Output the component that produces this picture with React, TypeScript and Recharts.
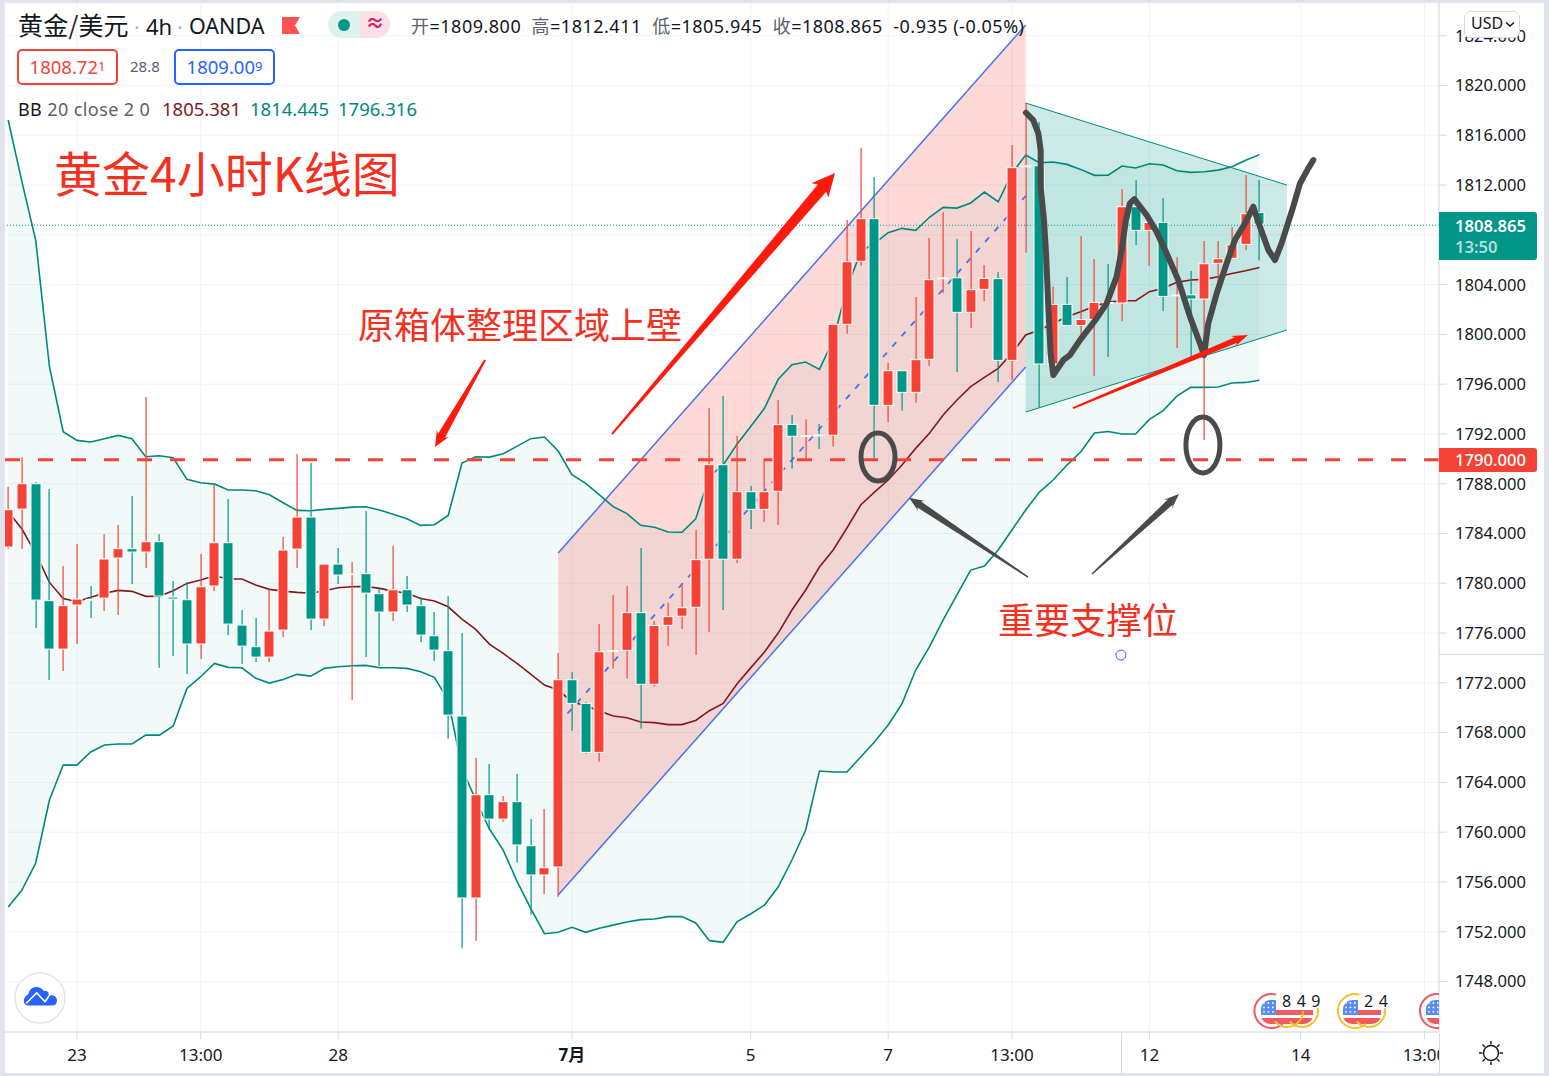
import React from 'react';
import {
  ComposedChart,
  Area,
  Bar,
  Line,
  XAxis,
  YAxis,
  CartesianGrid,
  ReferenceLine,
  ReferenceDot,
} from 'recharts';

const opens = [1782.91, 1785.96, 1788.0, 1778.6, 1774.71, 1778.25, 1778.7, 1778.81, 1782.03, 1782.78, 1782.51, 1783.34, 1778.89, 1778.68, 1775.12, 1779.78, 1783.26, 1776.64, 1774.9, 1774.07, 1776.24, 1782.75, 1785.32, 1777.12, 1781.54, 1780.72, 1780.77, 1779.16, 1777.69, 1779.48, 1778.2, 1775.78, 1774.58, 1769.33, 1754.71, 1763.01, 1761.05, 1762.45, 1758.91, 1756.56, 1757.2, 1772.25, 1770.35, 1766.41, 1774.55, 1774.61, 1777.64, 1771.88, 1776.62, 1777.35, 1778.07, 1781.93, 1789.53, 1781.93, 1787.36, 1785.94, 1787.39, 1792.77, 1791.84, 1791.92, 1791.89, 1800.81, 1805.87, 1809.3, 1794.3, 1797.08, 1795.34, 1798.0, 1804.47, 1804.55, 1801.77, 1803.62, 1804.48, 1797.91, 1813.5, 1813.55, 1797.62, 1802.41, 1800.72, 1801.2, 1802.57, 1802.52, 1810.26, 1808.36, 1809.0, 1803.12, 1803.18, 1802.84, 1805.71, 1806.11, 1807.23, 1809.8];
const highs = [1787.76, 1790.14, 1788.13, 1787.57, 1781.38, 1783.15, 1779.78, 1783.95, 1784.68, 1787.01, 1794.96, 1783.95, 1780.18, 1780.1, 1782.35, 1787.97, 1786.77, 1777.85, 1777.2, 1779.51, 1783.71, 1790.38, 1789.66, 1781.54, 1782.83, 1781.7, 1785.8, 1779.53, 1783.0, 1780.58, 1778.89, 1777.69, 1778.97, 1776.0, 1765.96, 1765.47, 1762.9, 1764.67, 1761.05, 1761.86, 1774.4, 1772.87, 1770.45, 1776.73, 1779.06, 1779.78, 1782.84, 1776.97, 1778.44, 1780.0, 1784.28, 1794.09, 1795.05, 1791.84, 1787.82, 1790.0, 1794.73, 1793.52, 1793.17, 1792.8, 1800.81, 1809.19, 1814.98, 1812.65, 1797.7, 1797.08, 1803.0, 1807.75, 1809.83, 1807.66, 1808.31, 1805.57, 1805.01, 1815.22, 1818.6, 1817.06, 1803.83, 1804.61, 1807.9, 1806.05, 1805.65, 1811.68, 1812.4, 1809.0, 1810.95, 1806.21, 1805.09, 1807.5, 1807.5, 1808.62, 1812.8, 1812.411];
const lows = [1782.75, 1782.75, 1776.4, 1772.22, 1772.95, 1775.12, 1777.2, 1777.77, 1777.45, 1779.94, 1781.22, 1773.21, 1774.15, 1772.7, 1773.91, 1779.37, 1775.84, 1773.51, 1773.67, 1773.67, 1775.68, 1781.22, 1776.24, 1776.56, 1779.94, 1770.61, 1774.07, 1773.35, 1776.96, 1777.69, 1775.27, 1773.75, 1767.51, 1750.66, 1751.28, 1760.23, 1760.84, 1757.55, 1753.37, 1755.03, 1754.81, 1768.15, 1766.31, 1765.66, 1773.14, 1772.34, 1768.32, 1771.69, 1774.96, 1776.33, 1774.24, 1776.09, 1777.85, 1781.63, 1784.36, 1784.93, 1784.69, 1789.21, 1790.04, 1790.79, 1790.98, 1800.06, 1805.52, 1790.04, 1792.96, 1793.87, 1794.51, 1797.46, 1803.32, 1796.98, 1800.51, 1802.68, 1796.17, 1796.33, 1806.56, 1794.13, 1797.62, 1800.72, 1799.81, 1796.65, 1798.18, 1801.07, 1807.18, 1805.49, 1801.87, 1798.9, 1798.18, 1791.5, 1803.96, 1806.11, 1806.78, 1805.945];
const closes = [1785.91, 1788.0, 1778.65, 1774.71, 1778.2, 1778.73, 1778.65, 1781.95, 1782.78, 1782.51, 1783.34, 1778.97, 1778.73, 1775.12, 1779.72, 1783.26, 1776.72, 1774.95, 1774.07, 1776.16, 1782.67, 1785.32, 1777.12, 1781.54, 1780.66, 1780.77, 1779.21, 1777.69, 1779.48, 1778.25, 1775.84, 1774.63, 1769.41, 1754.71, 1763.01, 1761.05, 1762.45, 1758.97, 1756.56, 1757.14, 1772.25, 1770.35, 1766.41, 1774.5, 1774.6, 1777.64, 1771.88, 1776.6, 1777.32, 1778.04, 1781.9, 1789.53, 1781.93, 1787.36, 1785.94, 1787.36, 1792.75, 1791.81, 1791.87, 1791.88, 1800.81, 1805.84, 1809.3, 1794.3, 1797.08, 1795.34, 1797.97, 1804.4, 1804.55, 1801.77, 1803.59, 1804.5, 1797.91, 1813.4, 1813.55, 1797.62, 1802.41, 1800.72, 1801.2, 1802.57, 1802.5, 1810.26, 1808.36, 1809.0, 1803.05, 1803.17, 1802.84, 1805.68, 1806.08, 1807.2, 1809.7, 1808.865];

const bbUpper = [1817.23, 1812.25, 1807.58, 1797.4, 1792.18, 1791.48, 1791.35, 1791.62, 1791.88, 1791.62, 1790.17, 1790.25, 1790.09, 1788.35, 1788.08, 1787.97, 1787.49, 1787.49, 1787.44, 1787.11, 1786.47, 1785.86, 1785.83, 1785.94, 1786.02, 1786.12, 1786.15, 1785.88, 1785.54, 1785.19, 1784.65, 1784.7, 1785.45, 1789.66, 1790.17, 1790.14, 1790.41, 1791.0, 1791.62, 1791.75, 1790.63, 1788.73, 1788.03, 1787.1, 1786.16, 1785.6, 1784.66, 1784.5, 1784.12, 1784.1, 1785.17, 1788.6, 1789.5, 1791.17, 1792.6, 1794.06, 1796.39, 1797.57, 1797.78, 1797.19, 1799.55, 1803.7, 1806.65, 1807.32, 1808.17, 1808.52, 1808.36, 1809.41, 1810.21, 1810.15, 1810.56, 1811.44, 1810.66, 1812.94, 1814.41, 1813.79, 1813.85, 1813.66, 1813.26, 1812.78, 1812.8, 1813.53, 1813.37, 1813.71, 1813.61, 1813.15, 1813.02, 1813.07, 1813.2, 1813.47, 1814.0, 1814.445];
const bbMiddle = [1785.75, 1784.36, 1782.4, 1780.07, 1778.78, 1778.52, 1778.87, 1779.2, 1779.43, 1779.35, 1778.95, 1778.97, 1779.4, 1779.99, 1780.26, 1780.6, 1780.34, 1780.34, 1779.86, 1779.51, 1779.37, 1779.27, 1779.2, 1779.4, 1779.64, 1779.72, 1779.75, 1779.59, 1779.37, 1779.2, 1778.78, 1778.57, 1778.11, 1777.12, 1776.29, 1775.11, 1774.36, 1773.56, 1772.7, 1771.82, 1771.42, 1770.48, 1770.16, 1769.73, 1769.33, 1769.2, 1768.85, 1768.8, 1768.64, 1768.64, 1768.98, 1769.76, 1770.35, 1771.91, 1773.2, 1774.48, 1776.0, 1777.85, 1779.46, 1781.31, 1782.67, 1784.44, 1786.29, 1787.33, 1788.3, 1789.5, 1790.84, 1792.05, 1793.52, 1794.73, 1795.8, 1796.55, 1797.27, 1798.48, 1799.95, 1800.35, 1800.88, 1801.42, 1801.82, 1802.27, 1802.6, 1802.7, 1802.7, 1803.43, 1803.7, 1804.18, 1804.37, 1804.42, 1804.63, 1804.9, 1805.11, 1805.381];
const bbLower = [1753.98, 1755.35, 1757.52, 1762.58, 1765.39, 1765.39, 1766.44, 1767.0, 1767.08, 1767.08, 1767.8, 1767.8, 1768.53, 1771.55, 1772.49, 1773.56, 1773.24, 1773.21, 1772.36, 1771.98, 1772.27, 1772.68, 1772.54, 1773.16, 1773.29, 1773.37, 1773.4, 1773.21, 1773.21, 1773.16, 1772.89, 1772.44, 1770.6, 1765.15, 1762.58, 1760.25, 1758.56, 1756.07, 1753.88, 1751.84, 1751.95, 1752.35, 1751.95, 1752.27, 1752.53, 1752.78, 1752.97, 1753.02, 1753.21, 1753.21, 1752.7, 1751.28, 1751.14, 1752.8, 1753.42, 1754.14, 1755.59, 1757.76, 1760.17, 1764.91, 1764.83, 1764.83, 1766.04, 1767.24, 1768.61, 1770.3, 1773.03, 1774.88, 1777.05, 1779.06, 1781.06, 1781.39, 1782.67, 1784.28, 1785.89, 1787.33, 1788.3, 1789.5, 1790.55, 1792.08, 1792.2, 1791.99, 1791.99, 1793.17, 1793.87, 1795.04, 1795.74, 1795.74, 1795.77, 1796.09, 1796.14, 1796.316];

const priceTicks = [1748, 1752, 1756, 1760, 1764, 1768, 1772, 1776, 1780, 1784, 1788, 1792, 1796, 1800, 1804, 1808, 1812, 1816, 1820, 1824];
const timeTicks = [5, 14, 24, 41, 54, 64, 73, 83, 94, 103];
const timeLabels = ['23', '13:00', '28', '7月', '5', '7', '13:00', '12', '14', '13:00'];

// drawings, all in bar index / price units
const channelBand = [
  { i: 40, range: [1754.95, 1782.43] },
  { i: 74, range: [1797.38, 1824.86] },
];
const channelMid = [
  { i: 40, price: 1768.69 },
  { i: 74, price: 1811.12 },
];
const wedgeBand = [
  { i: 74, range: [1793.76, 1818.59] },
  { i: 93, range: [1800.35, 1812.0] },
];
const handIdx = [74.02, 74.55, 74.92, 75.09, 75.09, 75.33, 75.48, 75.65, 75.81, 76.01, 76.74, 77.22, 77.95, 79.16, 79.89, 80.61, 80.98, 81.29, 81.58, 81.9, 82.8, 83.52, 84.25, 85.1, 85.95, 86.68, 86.97, 87.28, 87.89, 88.61, 89.22, 89.95, 90.55, 91.04, 91.65, 92.13, 92.61, 93.46, 93.95, 94.55, 94.92];
const handPrice = [1817.81, 1817.22, 1816.15, 1814.81, 1811.87, 1809.19, 1806.51, 1802.22, 1798.47, 1796.73, 1797.94, 1798.34, 1799.54, 1801.28, 1802.49, 1804.63, 1806.78, 1809.19, 1810.53, 1810.87, 1809.59, 1808.25, 1806.51, 1804.36, 1801.42, 1799.27, 1798.34, 1800.88, 1803.29, 1805.7, 1807.58, 1808.92, 1810.26, 1808.65, 1806.78, 1805.97, 1807.31, 1810.26, 1812.13, 1813.34, 1814.01];

const UP = '#f44336';
const DOWN = '#009688';
const BB_LINE = '#00897b';
const BB_MID = '#801922';
const BLUE = '#4d6fe8';
const PEN = '#4a4a4a';
const ARROW_RED = '#ff1a0d';
const FONT = '"Noto Sans", "Noto Sans CJK SC", sans-serif';
const CJK = '"Noto Sans CJK SC", sans-serif';

const rows = opens.map((open, i) => ({
  i,
  open,
  high: highs[i],
  low: lows[i],
  close: closes[i],
  upper: bbUpper[i],
  middle: bbMiddle[i],
  lower: bbLower[i],
  band: [bbLower[i], bbUpper[i]],
  wick: [lows[i], highs[i]],
}));
const handRows = handIdx.map((i, n) => ({ i, price: handPrice[n] }));

function Candle(props: any) {
  const { x, y, width, height, payload } = props;
  const { open, high, low, close } = payload;
  const k = height / (high - low);
  const top = y + (high - Math.max(open, close)) * k;
  const bottom = y + (high - Math.min(open, close)) * k;
  const color = close >= open ? UP : DOWN;
  const cx = Math.round(x + width / 2);
  return (
    <g>
      <rect x={cx - 0.5} y={y} width={1.2} height={height} fill={color} />
      <rect
        x={cx - 5}
        y={top}
        width={10}
        height={Math.max(bottom - top, 1)}
        fill={color}
        stroke="#fff"
        strokeWidth={1}
      />
    </g>
  );
}

function makeArrow(color: string, tail: number, neck: number, head: number, len: number) {
  return function ArrowShape(props: any) {
    const { x1, y1, x2, y2 } = props;
    const dx = x2 - x1;
    const dy = y2 - y1;
    const d = Math.hypot(dx, dy);
    const ux = dx / d;
    const uy = dy / d;
    const nx = -uy;
    const ny = ux;
    const bx = x2 - ux * len;
    const by = y2 - uy * len;
    const pts = [
      [x1 + (nx * tail) / 2, y1 + (ny * tail) / 2],
      [bx + (nx * neck) / 2, by + (ny * neck) / 2],
      [bx - ux * 3 + (nx * head) / 2, by - uy * 3 + (ny * head) / 2],
      [x2, y2],
      [bx - ux * 3 - (nx * head) / 2, by - uy * 3 - (ny * head) / 2],
      [bx - (nx * neck) / 2, by - (ny * neck) / 2],
      [x1 - (nx * tail) / 2, y1 - (ny * tail) / 2],
    ];
    return <polygon points={pts.map((p) => p.join(',')).join(' ')} fill={color} />;
  };
}

function makeEllipse(rx: number, ry: number) {
  return function EllipseShape(props: any) {
    return (
      <ellipse cx={props.cx} cy={props.cy} rx={rx} ry={ry} fill="none" stroke={PEN} strokeWidth={5} />
    );
  };
}

function XTick(props: any) {
  const { x, y, payload } = props;
  const label = timeLabels[timeTicks.indexOf(payload.value)];
  return (
    <text
      x={x}
      y={y + 20}
      textAnchor="middle"
      fontFamily={FONT}
      fontSize={17}
      fontWeight={label === '7月' ? 700 : 400}
      fill="#131722"
    >
      {label}
    </text>
  );
}

function Abs({ x, y, style, children }: any) {
  return (
    <div style={{ position: 'absolute', left: x, top: y, whiteSpace: 'nowrap', ...style }}>
      {children}
    </div>
  );
}

function arcPath(cx: number, cy: number, r: number, from: number, to: number) {
  // runs clockwise on screen, angles in degrees, y pointing down
  const a = (from * Math.PI) / 180;
  const b = (to * Math.PI) / 180;
  const large = to - from > 180 ? 1 : 0;
  return `M${cx + r * Math.cos(a)} ${cy + r * Math.sin(a)} A${r} ${r} 0 ${large} 1 ${cx + r * Math.cos(b)} ${cy + r * Math.sin(b)}`;
}

function FlagIcon({ left, cantonW, right, id }: { left: number; cantonW: number; right: number; id: string }) {
  return (
    <g>
      <clipPath id={id}>
        <rect x={left} y={1000} width={right - left} height={24} rx={9} />
      </clipPath>
      <g clipPath={`url(#${id})`}>
        <rect x={left} y={1014} width={right - left} height={3.5} fill="#fff" />
        <rect x={left} y={1010} width={right - left} height={5} fill="#ef5a63" />
        <rect x={left} y={1018} width={right - left} height={6} fill="#ef5a63" />
        <rect x={left} y={1000} width={cantonW} height={15} fill="#5b8def" />
        {[0, 1, 2].map((r) =>
          [0, 1, 2].map((c) => (
            <circle key={`${r}${c}`} cx={left + 3 + c * 4.4} cy={1003 + r * 4.4} r={0.9} fill="#fff" />
          )),
        )}
      </g>
    </g>
  );
}

export default function App() {
  return (
    <div style={{ position: 'absolute', left: 0, top: 0, width: 1549, height: 1076, background: '#e0e3eb', overflow: 'hidden' }}>
      <div style={{ position: 'absolute', left: 5, top: 3, width: 1539, height: 1070, background: '#fff' }} />
      <div style={{ position: 'absolute', left: 0, top: 0 }}>
        <ComposedChart width={1549} height={1076} data={rows} margin={{ top: 3, right: 5, bottom: 3, left: 5 }}>
          <CartesianGrid stroke="#f0f3fa" strokeWidth={1} />
          <XAxis
            dataKey="i"
            type="number"
            domain={[-0.233, 104.06]}
            allowDataOverflow
            ticks={timeTicks}
            interval={0}
            height={41}
            tick={XTick}
            tickSize={7}
            stroke="#d6d9e0"
          />
          <YAxis
            orientation="right"
            type="number"
            domain={[1743.94, 1826.63]}
            allowDataOverflow
            ticks={priceTicks}
            interval={0}
            width={105}
            tickSize={8}
            tickMargin={8}
            tickFormatter={(v: number) => v.toFixed(3)}
            tick={{ fontFamily: FONT, fontSize: 16.6, fill: '#131722' }}
            stroke="#d6d9e0"
          />
          <Area dataKey="band" type="linear" stroke="none" fill={DOWN} fillOpacity={0.05} isAnimationActive={false} dot={false} activeDot={false} zIndex={100} />
          <Area data={channelBand} dataKey="range" type="linear" stroke={BLUE} strokeWidth={1.5} fill={UP} fillOpacity={0.2} isAnimationActive={false} dot={false} activeDot={false} zIndex={110} />
          <Area data={wedgeBand} dataKey="range" type="linear" stroke={BB_LINE} strokeWidth={1} fill={DOWN} fillOpacity={0.2} isAnimationActive={false} dot={false} activeDot={false} zIndex={120} />
          <Line data={channelMid} dataKey="price" type="linear" stroke={BLUE} strokeWidth={1.8} strokeDasharray="6 8" dot={false} activeDot={false} isAnimationActive={false} zIndex={130} />
          <Line dataKey="upper" type="linear" stroke={BB_LINE} strokeWidth={1.6} dot={false} activeDot={false} isAnimationActive={false} zIndex={140} />
          <Line dataKey="middle" type="linear" stroke={BB_MID} strokeWidth={1.6} dot={false} activeDot={false} isAnimationActive={false} zIndex={140} />
          <Line dataKey="lower" type="linear" stroke={BB_LINE} strokeWidth={1.6} dot={false} activeDot={false} isAnimationActive={false} zIndex={140} />
          <ReferenceLine y={1789.93} stroke={UP} strokeWidth={3} strokeDasharray="15 18" zIndex={150} />
          <ReferenceLine y={1808.77} stroke={DOWN} strokeWidth={1} strokeDasharray="1 2" zIndex={150} />
          <Bar dataKey="wick" barSize={10} shape={Candle} isAnimationActive={false} zIndex={300} />
          <Line data={handRows} dataKey="price" type="linear" stroke={PEN} strokeWidth={6} strokeLinecap="round" strokeLinejoin="round" dot={false} activeDot={false} isAnimationActive={false} zIndex={500} />
          <ReferenceDot x={63.26} y={1790.15} shape={makeEllipse(17, 24)} zIndex={500} />
          <ReferenceDot x={86.89} y={1791.11} shape={makeEllipse(17, 28)} zIndex={500} />
          <ReferenceDot x={80.93} y={1774.23} r={5} fill="#fff" stroke="#2962ff" strokeWidth={1} zIndex={500} />
          <ReferenceLine segment={[{ x: 43.91, y: 1791.99 }, { x: 60.13, y: 1812.97 }]} shape={makeArrow(ARROW_RED, 2, 11, 22, 20)} zIndex={510} />
          <ReferenceLine segment={[{ x: 34.68, y: 1797.94 }, { x: 31.04, y: 1790.95 }]} shape={makeArrow(ARROW_RED, 2, 8, 14, 13)} zIndex={510} />
          <ReferenceLine segment={[{ x: 77.44, y: 1794.08 }, { x: 90.17, y: 1799.95 }]} shape={makeArrow(ARROW_RED, 2, 6, 11, 13)} zIndex={510} />
          <ReferenceLine segment={[{ x: 74.17, y: 1780.5 }, { x: 65.52, y: 1786.87 }]} shape={makeArrow(PEN, 1.5, 7, 12, 12)} zIndex={510} />
          <ReferenceLine segment={[{ x: 78.82, y: 1780.74 }, { x: 85.15, y: 1787.17 }]} shape={makeArrow(PEN, 1.5, 7, 12, 12)} zIndex={510} />
        </ComposedChart>
      </div>

      {/* header */}
      <Abs x={18} y={6} style={{ fontFamily: CJK, fontSize: 25, color: '#131722', lineHeight: '36px', letterSpacing: 0.2 }}>黄金/美元</Abs>
      <Abs x={134} y={9} style={{ fontFamily: FONT, fontSize: 22, color: '#b2b5be', lineHeight: '34px' }}>·</Abs>
      <Abs x={146} y={9} style={{ fontFamily: FONT, fontSize: 22, color: '#131722', lineHeight: '34px' }}>4h</Abs>
      <Abs x={177} y={9} style={{ fontFamily: FONT, fontSize: 22, color: '#b2b5be', lineHeight: '34px' }}>·</Abs>
      <Abs x={189} y={9} style={{ fontFamily: FONT, fontSize: 21.5, color: '#131722', lineHeight: '34px' }}>OANDA</Abs>
      <svg style={{ position: 'absolute', left: 280, top: 14 }} width={24} height={22}>
        <polygon points="2,3 20,3 15,11.5 20,20 2,20" fill="#ff5252" />
      </svg>
      <div style={{ position: 'absolute', left: 328, top: 11, width: 62, height: 27, borderRadius: 14, overflow: 'hidden', display: 'flex' }}>
        <div style={{ width: 32, background: '#dff1ee', position: 'relative' }}>
          <div style={{ position: 'absolute', left: 10, top: 7.5, width: 12, height: 12, borderRadius: 6, background: DOWN }} />
        </div>
        <div style={{ width: 30, background: '#fbe0ea', color: '#d81b60', fontFamily: FONT, fontSize: 19, fontWeight: 700, textAlign: 'center', lineHeight: '25px' }}>≈</div>
      </div>
      <Abs x={411} y={13} style={{ fontFamily: FONT, fontSize: 18, color: '#131722', lineHeight: '26px', letterSpacing: 0.5 }}>
        <span style={{ color: '#5d606b' }}>开</span>=1809.800&nbsp;&nbsp;<span style={{ color: '#5d606b' }}>高</span>=1812.411&nbsp;&nbsp;<span style={{ color: '#5d606b' }}>低</span>=1805.945&nbsp;&nbsp;<span style={{ color: '#5d606b' }}>收</span>=1808.865&nbsp;&nbsp;-0.935 (-0.05%)
      </Abs>
      <div style={{ position: 'absolute', left: 17, top: 49, width: 101, height: 36, boxSizing: 'border-box', border: `2px solid ${UP}`, borderRadius: 5, color: UP, fontFamily: FONT, fontSize: 18.5, textAlign: 'center', lineHeight: '30px', background: '#fff' }}>
        1808.72<span style={{ fontSize: 13, verticalAlign: 3 }}>1</span>
      </div>
      <Abs x={130} y={55} style={{ fontFamily: FONT, fontSize: 15, color: '#5d606b', lineHeight: '22px' }}>28.8</Abs>
      <div style={{ position: 'absolute', left: 174, top: 49, width: 101, height: 36, boxSizing: 'border-box', border: '2px solid #2962ff', borderRadius: 5, color: '#2962ff', fontFamily: FONT, fontSize: 18.5, textAlign: 'center', lineHeight: '30px', background: '#fff' }}>
        1809.00<span style={{ fontSize: 13, verticalAlign: 3 }}>9</span>
      </div>
      <Abs x={18} y={96} style={{ fontFamily: FONT, fontSize: 18, lineHeight: '26px', color: '#5d606b', letterSpacing: 0.4 }}>
        <span style={{ color: '#131722' }}>BB</span> 20 close 2 0
      </Abs>
      <Abs x={162} y={96} style={{ fontFamily: FONT, fontSize: 18.5, lineHeight: '26px', color: BB_MID }}>1805.381</Abs>
      <Abs x={250} y={96} style={{ fontFamily: FONT, fontSize: 18.5, lineHeight: '26px', color: BB_LINE }}>1814.445</Abs>
      <Abs x={338} y={96} style={{ fontFamily: FONT, fontSize: 18.5, lineHeight: '26px', color: BB_LINE }}>1796.316</Abs>

      {/* typed notes */}
      <Abs x={54} y={138} style={{ fontFamily: CJK, fontSize: 48, color: '#f4301f', lineHeight: '66px' }}>黄金4小时K线图</Abs>
      <Abs x={358} y={296} style={{ fontFamily: CJK, fontSize: 36, color: '#f4301f', lineHeight: '54px' }}>原箱体整理区域上壁</Abs>
      <Abs x={998} y={591} style={{ fontFamily: CJK, fontSize: 36, color: '#f4301f', lineHeight: '54px' }}>重要支撑位</Abs>

      {/* price labels on the axis */}
      <div style={{ position: 'absolute', left: 1439, top: 212, width: 98, height: 48, background: DOWN, borderRadius: '0 3px 3px 0', fontFamily: FONT, fontSize: 16.6, color: '#fff', fontWeight: 600, paddingLeft: 16, boxSizing: 'border-box' }}>
        <div style={{ position: 'absolute', top: 4, lineHeight: '20px' }}>1808.865</div>
        <div style={{ position: 'absolute', top: 25, lineHeight: '20px', color: '#b2dfdb' }}>13:50</div>
      </div>
      <div style={{ position: 'absolute', left: 1439, top: 448, width: 98, height: 24, background: UP, borderRadius: '0 3px 3px 0', fontFamily: FONT, fontSize: 16.6, color: '#fff', fontWeight: 500, paddingLeft: 16, boxSizing: 'border-box', lineHeight: '24px' }}>
        1790.000
      </div>
      <div style={{ position: 'absolute', left: 1464, top: 11, width: 56, height: 27, boxSizing: 'border-box', border: '1.5px solid #d6d9e0', borderRadius: 6, background: '#fff', fontFamily: FONT, fontSize: 16, color: '#131722', lineHeight: '23px', paddingLeft: 6 }}>
        USD
        <svg style={{ position: 'absolute', left: 40, top: 9 }} width={10} height={7}>
          <path d="M1 1.5 L5 5 L9 1.5" fill="none" stroke="#131722" strokeWidth={1.6} />
        </svg>
      </div>

      {/* crosshair leftovers */}
      <div style={{ position: 'absolute', left: 1439, top: 654, width: 105, height: 1, background: '#d6d9e0' }} />
      <div style={{ position: 'absolute', left: 1121, top: 1033, width: 1, height: 40, background: '#d6d9e0' }} />

      {/* bottom right corner */}
      <div style={{ position: 'absolute', left: 1439, top: 1033, width: 105, height: 40, background: '#fff', borderLeft: '1px solid #d6d9e0', boxSizing: 'border-box' }} />
      <svg style={{ position: 'absolute', left: 1478, top: 1040 }} width={26} height={26} viewBox="0 0 26 26">
        <circle cx={13} cy={13} r={7.5} fill="none" stroke="#131722" strokeWidth={1.4} />
        <path d="M13 1v3.5M13 21.5V25M1 13h3.5M21.5 13H25M4.5 4.5l2.5 2.5M19 19l2.5 2.5M4.5 21.5L7 19M19 7l2.5-2.5" stroke="#131722" strokeWidth={1.4} />
      </svg>

      {/* logo */}
      <svg style={{ position: 'absolute', left: 5, top: 960 }} width={80} height={70} viewBox="5 960 80 70">
        <circle cx={40} cy={998} r={25} fill="#fff" stroke="#e3e5ea" strokeWidth={1.5} />
        <path d="M28 1005.5 Q23 1005 24 999 Q25 995.5 28 994.5 Q30 987 36 987 Q41 987 44 991 Q48 990 49 995 Q56 994.5 57 1000 Q57 1005.5 52 1005.5 Z" fill="#2962ff" />
        <path d="M26 1003.5 L36.7 993 L45 1001.7 L51.7 992" fill="none" stroke="#fff" strokeWidth={1.6} />
      </svg>

      {/* event flags */}
      <svg style={{ position: 'absolute', left: 1240, top: 985, overflow: 'hidden' }} width={199} height={47} viewBox="1240 985 199 47">
        <FlagIcon id="flagA" left={1261} cantonW={15} right={1313} />
        <FlagIcon id="flagB" left={1343} cantonW={15} right={1381} />
        <FlagIcon id="flagC" left={1426} cantonW={14} right={1460} />
        <path d={arcPath(1271.5, 1011, 17, 50, 285)} fill="none" stroke="#ef5a63" strokeWidth={2} />
        <path d={arcPath(1287, 1011, 16, 0, 140)} fill="none" stroke="#fbc02d" strokeWidth={2} />
        <path d={arcPath(1302, 1011, 16, -10, 140)} fill="none" stroke="#fbc02d" strokeWidth={2} />
        <path d={arcPath(1355, 1011, 17, 50, 285)} fill="none" stroke="#fbc02d" strokeWidth={2} />
        <path d={arcPath(1369, 1011, 16, -10, 140)} fill="none" stroke="#fbc02d" strokeWidth={2} />
        <path d={arcPath(1437, 1011, 17, 50, 285)} fill="none" stroke="#ef5a63" strokeWidth={2} />
        <text x={1282} y={1007} fontFamily={FONT} fontSize={16} letterSpacing={5.5} fill="#131722">849</text>
        <text x={1364} y={1007} fontFamily={FONT} fontSize={16} letterSpacing={5.5} fill="#131722">24</text>
      </svg>
    </div>
  );
}
